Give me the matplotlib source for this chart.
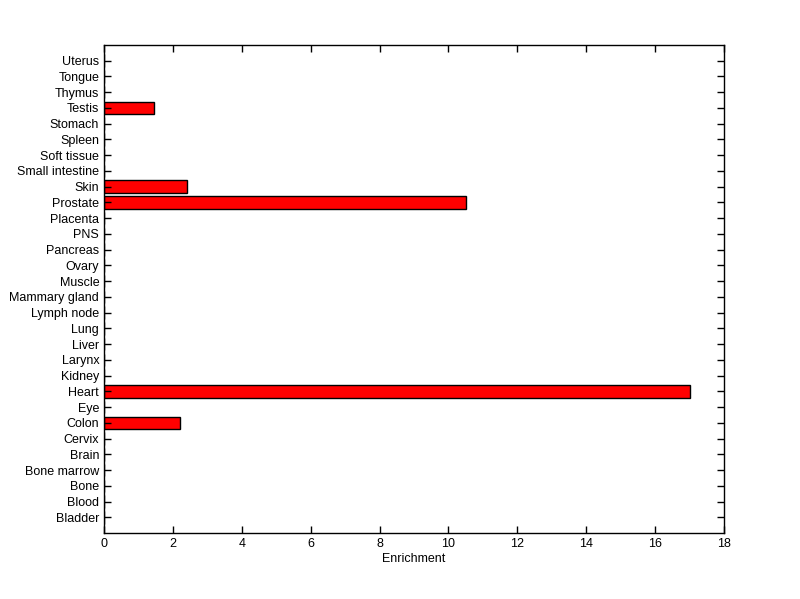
import numpy as np
import matplotlib
matplotlib.use('Agg')
import matplotlib.pyplot as plt

plt.rcParams['font.family'] = ['Liberation Sans', 'DejaVu Sans']

# 组织名称（从下到上）
tissues = ['Bladder', 'Blood', 'Bone', 'Bone marrow', 'Brain', 'Cervix', 'Colon',
           'Eye', 'Heart', 'Kidney', 'Larynx', 'Liver', 'Lung', 'Lymph node',
           'Mammary gland', 'Muscle', 'Ovary', 'Pancreas', 'PNS', 'Placenta',
           'Prostate', 'Skin', 'Small intestine', 'Soft tissue', 'Spleen',
           'Stomach', 'Testis', 'Thymus', 'Tongue', 'Uterus']
enrichment = [0, 0, 0, 0, 0, 0, 2.22,
              0, 17.0, 0, 0, 0, 0, 0,
              0, 0, 0, 0, 0, 0,
              10.52, 2.42, 0, 0, 0,
              0, 1.46, 0, 0, 0]
xticks = [0, 2, 4, 6, 8, 10, 12, 14, 16, 18]

fig = plt.figure(figsize=(8, 5.99), dpi=100)
ax = fig.add_axes([0.13, 0.110, 0.775, 0.815])

pos = np.arange(1, len(tissues) + 1)
ax.barh(pos, enrichment, height=0.8, color='#ff0000', edgecolor='black', linewidth=1)

ax.set_xlim(0, 18)
ax.set_ylim(0, len(tissues) + 1)
ax.set_xticks(xticks)
ax.set_yticks(pos)
ax.set_yticklabels(tissues, fontsize=9)
ax.tick_params(axis='x', labelsize=9)
ax.tick_params(direction='in', length=5, width=1, top=True, right=True)
ax.set_xlabel('Enrichment', fontsize=9, labelpad=2)
for s in ax.spines.values():
    s.set_linewidth(1)

plt.savefig('out.png', dpi=100)
